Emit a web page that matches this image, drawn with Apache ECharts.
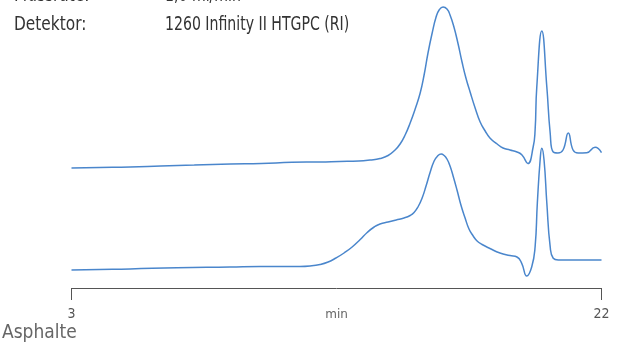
<!DOCTYPE html>
<html>
<head>
<meta charset="utf-8">
<script src="https://cdn.jsdelivr.net/npm/echarts@6/dist/echarts.min.js"></script>
<style>
html,body{margin:0;padding:0;background:#fff;}
#chart{width:622px;height:348px;}
</style>
</head>
<body>
<div id="chart"></div>
<script>
// Retention time (min) and detector signal (arbitrary units) – upper trace
const timeUpper = [3.0, 4.0, 5.1, 6.2, 7.4, 8.7, 9.8, 10.9, 11.9, 12.6, 13.3, 13.7, 14.06, 14.35, 14.60, 14.78, 14.96, 15.14, 15.32, 15.50, 15.64, 15.78, 15.93, 16.07, 16.18, 16.32, 16.46, 16.57, 16.71, 16.86, 17.00, 17.14, 17.29, 17.47, 17.65, 17.83, 18.00, 18.26, 18.47, 18.72, 18.97, 19.15, 19.36, 19.55, 19.62, 19.68, 19.86, 20.04, 20.16, 20.27, 20.44, 20.62, 20.81, 20.98, 21.16, 21.47, 21.77, 22.0];
const signalUpper = [120, 120.5, 121, 122, 123, 124, 124.5, 125.7, 126, 126.5, 127, 128, 129.5, 132.5, 138, 144, 153, 165, 179, 195, 213, 235, 255, 271, 278, 281, 279, 273, 261, 244, 226, 210, 196, 180, 166, 157, 150, 144, 140, 138, 136, 133, 124.5, 141, 158, 201, 257, 201, 155, 136, 135, 138, 155, 138, 135, 135.3, 140.7, 135.3];

// Lower trace
const timeLower = [3.0, 4.0, 5.1, 6.78, 8.68, 9.76, 11.19, 11.55, 11.91, 12.20, 12.48, 12.77, 13.06, 13.35, 13.60, 13.85, 14.06, 14.35, 14.64, 14.92, 15.14, 15.28, 15.42, 15.57, 15.71, 15.86, 16.00, 16.11, 16.25, 16.36, 16.46, 16.57, 16.68, 16.82, 16.96, 17.11, 17.25, 17.40, 17.54, 17.72, 18.00, 18.36, 18.72, 18.97, 19.14, 19.32, 19.50, 19.62, 19.70, 19.80, 19.86, 19.94, 20.04, 20.16, 20.27, 20.45, 21.2, 22.0];
const signalLower = [18, 18.5, 19, 20.3, 21, 21.5, 21.5, 22, 23.5, 26, 30, 35, 41, 48.5, 55.5, 61, 64, 66, 68, 70, 72.5, 75.5, 81, 90, 102, 116, 127, 131.5, 134, 132.5, 129, 122, 112, 98, 83, 70, 59, 52, 47, 43.5, 39.5, 35, 32.5, 31, 24.7, 12, 21.3, 41.3, 85, 128, 139.7, 128, 85, 41.3, 29.7, 28, 28, 28];

const axisTicks = [3, 22];
const axisTitle = 'min';
const infoLabels = ['Flussrate:', 'Detektor:'];
const infoValues = ['1,0 ml/min', '1260 Infinity II HTGPC (RI)'];
const sampleName = 'Asphalte';

const pair = (xs, ys) => xs.map((x, i) => [x, ys[i]]);
const condensed = '"DejaVu Sans Condensed", "DejaVu Sans", sans-serif';

const chart = echarts.init(document.getElementById('chart'), null, {renderer: 'canvas'});
const lineColor = '#4a86cc';

const graphics = [];
infoLabels.forEach((t, i) => {
  graphics.push({type: 'text', x: 14, y: -13 + i * 29, scaleX: 0.9,
    style: {text: t, font: '19px ' + condensed, fill: '#333', verticalAlign: 'top'}});
  graphics.push({type: 'text', x: 165, y: -13 + i * 29, scaleX: 0.825,
    style: {text: infoValues[i], font: '19px ' + condensed, fill: '#333', verticalAlign: 'top'}});
});
graphics.push({type: 'text', x: 2, y: 324,
  style: {text: sampleName, font: '19px ' + condensed, fill: '#666', verticalAlign: 'top'}});

chart.setOption({
  animation: false,
  grid: {left: 71.5, right: 20.5, top: 0, bottom: 60},
  xAxis: {
    type: 'value', min: 3, max: 22,
    name: axisTitle, nameLocation: 'middle', nameGap: 21, nameMoveOverlap: false,
    nameTextStyle: {color: '#666', fontSize: 12, fontFamily: 'DejaVu Sans'},
    axisLine: {show: true, lineStyle: {color: '#555', width: 1}},
    axisTick: {show: true, customValues: axisTicks, length: 12, lineStyle: {color: '#555'}},
    axisLabel: {show: true, customValues: axisTicks, margin: 19, color: '#555', fontSize: 14, fontFamily: condensed},
    splitLine: {show: false}
  },
  yAxis: {type: 'value', min: 0, max: 288, show: false, splitLine: {show: false}},
  graphic: graphics,
  series: [
    {type: 'line', data: pair(timeUpper, signalUpper), smooth: 0.5, showSymbol: false,
     lineStyle: {color: lineColor, width: 1.5}},
    {type: 'line', data: pair(timeLower, signalLower), smooth: 0.5, showSymbol: false,
     lineStyle: {color: lineColor, width: 1.5}}
  ]
});
</script>
</body>
</html>
